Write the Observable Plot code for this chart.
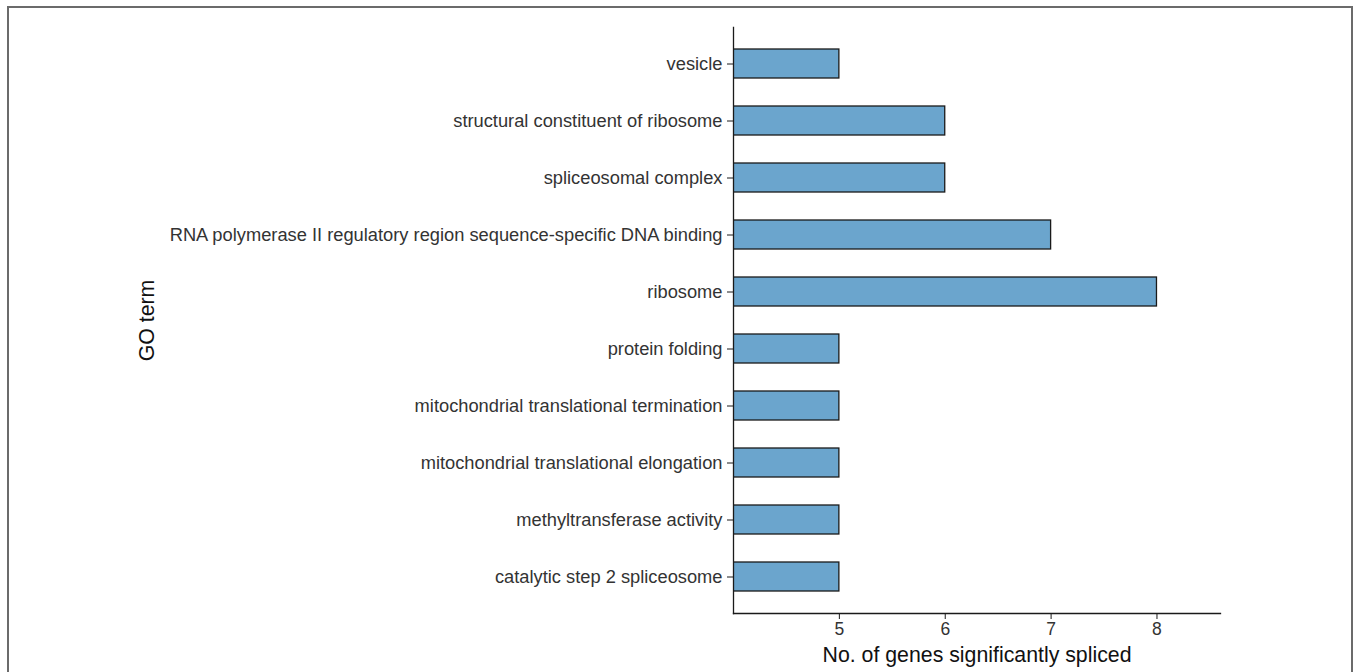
<!DOCTYPE html>
<html>
<head>
<meta charset="utf-8">
<script src="https://cdn.jsdelivr.net/npm/d3@7"></script>
<script src="https://cdn.jsdelivr.net/npm/@observablehq/plot@0.6"></script>
<style>
  html, body { margin: 0; padding: 0; background: #fff; overflow: hidden; }
  #wrap { position: relative; width: 1360px; height: 672px; }
  #border { position: absolute; left: 7px; top: 6px; width: 1346px; height: 700px; border: 2px solid #6b6b6b; box-sizing: border-box; pointer-events: none; }
  svg { display: block; }
</style>
</head>
<body>
<div id="wrap"><div id="border"></div></div>
<script>
// Categories (top to bottom as drawn) and values
const terms = [
  "vesicle",
  "structural constituent of ribosome",
  "spliceosomal complex",
  "RNA polymerase II regulatory region sequence-specific DNA binding",
  "ribosome",
  "protein folding",
  "mitochondrial translational termination",
  "mitochondrial translational elongation",
  "methyltransferase activity",
  "catalytic step 2 spliceosome"
];
const counts = [5, 6, 6, 7, 8, 5, 5, 5, 5, 5];
const xTicks = [5, 6, 7, 8];
const xTitle = "No. of genes significantly spliced";
const yTitle = "GO term";

const data = terms.map((t, i) => ({term: t, n: counts[i]}));

const chart = Plot.plot({
  width: 1360,
  height: 672,
  marginLeft: 733,
  marginRight: 140,
  marginTop: 27,
  marginBottom: 59,
  style: {fontFamily: "'Liberation Sans', Arial, sans-serif", background: "transparent"},
  x: {domain: [4, 8.6]},
  y: {domain: terms, paddingInner: 0.5, paddingOuter: 0.36},
  marks: [
    Plot.barX(data, {x: "n", y: "term", fill: "#6ba5cd", stroke: "#1a1a1a", strokeWidth: 1.3, clip: true}),
    Plot.frame({anchor: "left", stroke: "#1a1a1a", strokeWidth: 1.3}),
    Plot.frame({anchor: "bottom", stroke: "#1a1a1a", strokeWidth: 1.3}),
    Plot.axisX({ticks: xTicks, tickFormat: "d", tickSize: 6, tickPadding: 3, fontSize: 17.5, label: null, color: "#333", stroke: "#1a1a1a"}),
    Plot.axisY({tickSize: 6, tickPadding: 5, fontSize: 18.3, label: null, color: "#333", stroke: "#1a1a1a"}),
    Plot.text([xTitle], {frameAnchor: "bottom", dy: 48, fontSize: 21.3, fill: "#111"}),
    Plot.text([yTitle], {frameAnchor: "left", textAnchor: "middle", dx: -586, rotate: -90, fontSize: 21.3, fill: "#111"})
  ]
});
document.getElementById("wrap").appendChild(chart);
</script>
</body>
</html>
